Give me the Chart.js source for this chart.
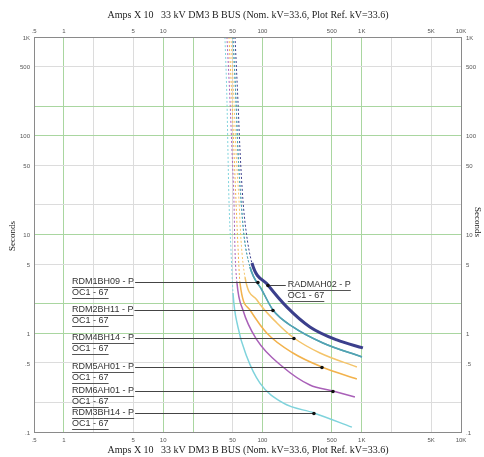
<!DOCTYPE html>
<html><head><meta charset="utf-8">
<script src="https://cdn.jsdelivr.net/npm/chart.js@4.4.1/dist/chart.umd.min.js"></script>
<style>html,body{margin:0;padding:0;background:#fff}#wrap{width:484px;height:457px;position:relative}</style>
</head><body><div id="wrap"><canvas id="c" width="484" height="457"></canvas></div>
<script>
// ---- data ----
const axisTitle = "Amps X 10   33 kV DM3 B BUS (Nom. kV=33.6, Plot Ref. kV=33.6)";
const yAxisTitle = "Seconds";
const xTickValues = [0.5, 1, 5, 10, 50, 100, 500, 1000, 5000, 10000];
const xTickLabels = [".5", "1", "5", "10", "50", "100", "500", "1K", "5K", "10K"];
const yTickValues = [1000, 500, 100, 50, 10, 5, 1, 0.5, 0.1];
const yTickLabels = ["1K", "500", "100", "50", "10", "5", "1", ".5", ".1"];
const xGridValues = [1, 2, 5, 10, 20, 50, 100, 200, 500, 1000, 2000, 5000];
const yGridValues = [0.2, 0.5, 1, 2, 5, 10, 20, 50, 100, 200, 500];

// curves: amps (x10) and seconds
const ampsRADMAH02 = [52.9, 56.6, 59.4, 63.6, 68.2, 78.4, 113.6, 176.6, 300.6, 562, 1028];
const secsRADMAH02 = [1000, 230, 71.7, 22.4, 11.1, 5.15, 3.08, 1.84, 1.16, 0.855, 0.71];
const ampsRDM1BH09 = [50.5, 54.1, 56.6, 60.8, 65.1, 74.9, 98.9, 127.6, 202.8, 406.7, 1005];
const secsRDM1BH09 = [1000, 230, 71.7, 22.4, 9.89, 4.69, 2.74, 1.72, 1.16, 0.797, 0.575];
const ampsRDM2BH11 = [50.5, 54.1, 56.6, 60.8, 65.1, 74.9, 98.9, 127.6, 202.8, 406.7, 1005];
const secsRDM2BH11 = [1000, 230, 71.7, 22.4, 9.89, 4.69, 2.74, 1.72, 1.16, 0.797, 0.575];
const ampsRDM4BH14 = [48.2, 51.6, 54.1, 58, 60.8, 66.7, 88, 140, 207.5, 380, 894];
const secsRDM4BH14 = [1000, 230, 71.7, 22.4, 8.8, 3.71, 2.17, 1.27, 0.895, 0.631, 0.455];
const ampsRDM5AH01 = [46, 49.3, 51.6, 54.1, 56.6, 59.4, 74.9, 111, 202.8, 397.6, 894];
const secsRDM5AH01 = [1000, 230, 71.7, 22.4, 7.83, 3.23, 1.72, 1.0, 0.631, 0.455, 0.344];
const ampsRDM6AH01 = [43.9, 47.1, 49.3, 51.6, 52.9, 55.4, 63.6, 88, 160.9, 300.6, 513, 854];
const secsRDM6AH01 = [1000, 230, 71.7, 22.4, 6.97, 3.23, 1.72, 0.855, 0.455, 0.299, 0.26, 0.226];
const ampsRDM3BH14 = [41.9, 43.9, 44.9, 46, 48.2, 50.5, 56.6, 69.8, 94.4, 160.9, 330, 797];
const secsRDM3BH14 = [1000, 230, 71.7, 22.4, 6.97, 2.56, 1.16, 0.575, 0.313, 0.197, 0.156, 0.112];

// index of first point of the solid part of each curve
const solidFrom = {RADMAH02: 5, RDM1BH09: 5, RDM2BH11: 5, RDM4BH14: 5, RDM5AH01: 5, RDM6AH01: 5, RDM3BH14: 5};

// device labels: name, marker point (amps, seconds)
const labelNames = ["RDM1BH09 - P", "RADMAH02 - P", "RDM2BH11 - P", "RDM4BH14 - P", "RDM5AH01 - P", "RDM6AH01 - P", "RDM3BH14 - P"];
const labelSub = "OC1 - 67";
const markerAmps = [90, 113.6, 127.6, 207.5, 397.6, 513, 330];
const markerSecs = [3.30, 3.08, 1.72, 0.895, 0.455, 0.26, 0.156];
const labelAmps = [1.21, 180, 1.21, 1.21, 1.21, 1.21, 1.21];

// ---- build ----
const zip = (a, s) => a.map((v, i) => ({x: v, y: s[i]}));
const curveDefs = [
  {key: "RDM3BH14", amps: ampsRDM3BH14, secs: secsRDM3BH14, color: "#7fd3dc", w: 1.5},
  {key: "RDM6AH01", amps: ampsRDM6AH01, secs: secsRDM6AH01, color: "#a960b8", w: 1.5},
  {key: "RDM5AH01", amps: ampsRDM5AH01, secs: secsRDM5AH01, color: "#f2b24c", w: 1.5},
  {key: "RDM4BH14", amps: ampsRDM4BH14, secs: secsRDM4BH14, color: "#f4c46a", w: 1.5},
  {key: "RDM1BH09", amps: ampsRDM1BH09, secs: secsRDM1BH09, color: "#52a3b3", w: 1.5},
  {key: "RDM2BH11", amps: ampsRDM2BH11, secs: secsRDM2BH11, color: "#52a3b3", w: 1.5},
  {key: "RADMAH02", amps: ampsRADMAH02, secs: secsRADMAH02, color: "#3b3f8c", w: 3}
];
const datasets = curveDefs.map(c => ({
  label: c.key,
  data: zip(c.amps, c.secs),
  borderColor: c.color,
  borderWidth: c.w,
  pointRadius: 0,
  fill: false,
  cubicInterpolationMode: "monotone",
  segment: {
    borderDash: ctx => ctx.p1DataIndex <= solidFrom[c.key] ? [2, 2] : [],
    borderWidth: ctx => ctx.p1DataIndex <= solidFrom[c.key] ? 1 : c.w
  }
}));

const greenX = [1, 10, 20, 100, 500, 1000];
const greenY = [1, 2, 10, 100, 200];

const deco = {
  id: "deco",
  afterDraw(chart) {
    const ctx = chart.ctx, a = chart.chartArea;
    const xs = chart.scales.x, ys = chart.scales.y;
    ctx.save();
    ctx.strokeStyle = "#8a8a8a"; ctx.lineWidth = 1;
    ctx.strokeRect(Math.round(a.left) + 0.5, Math.round(a.top) + 0.5, Math.round(a.right - a.left), Math.round(a.bottom - a.top));
    ctx.fillStyle = "#555"; ctx.font = "6px 'Liberation Sans', Arial, sans-serif";
    ctx.textAlign = "center"; ctx.textBaseline = "middle";
    xTickValues.forEach((v, i) => {
      const px = xs.getPixelForValue(v);
      ctx.fillText(xTickLabels[i], px, a.top - 6);
      ctx.fillText(xTickLabels[i], px, a.bottom + 8);
    });
    yTickValues.forEach((v, i) => {
      const py = ys.getPixelForValue(v);
      ctx.textAlign = "right"; ctx.fillText(yTickLabels[i], a.left - 4, py + 1);
      ctx.textAlign = "left"; ctx.fillText(yTickLabels[i], a.right + 5, py + 1);
    });
    ctx.fillStyle = "#222"; ctx.font = "10px 'Liberation Serif', 'Times New Roman', serif";
    ctx.textAlign = "center";
    ctx.fillText(axisTitle, 248, 15);
    ctx.fillText(axisTitle, 248, 450);
    ctx.font = "9px 'Liberation Serif', serif";
    ctx.save(); ctx.translate(13, 236); ctx.rotate(-Math.PI / 2); ctx.fillText(yAxisTitle, 0, 0); ctx.restore();
    ctx.save(); ctx.translate(477, 222); ctx.rotate(Math.PI / 2); ctx.fillText(yAxisTitle, 0, 0); ctx.restore();
    ctx.font = "9px 'Liberation Sans', Arial, sans-serif";
    ctx.textBaseline = "middle";
    labelNames.forEach((name, i) => {
      const mx = xs.getPixelForValue(markerAmps[i]);
      const my = Math.round(ys.getPixelForValue(markerSecs[i]));
      const lx = xs.getPixelForValue(labelAmps[i]);
      const w1 = ctx.measureText(name).width, w2 = ctx.measureText(labelSub).width;
      ctx.fillStyle = "#333"; ctx.textAlign = "left";
      ctx.fillText(name, lx, my);
      ctx.fillText(labelSub, lx, my + 11);
      ctx.strokeStyle = "#555"; ctx.lineWidth = 1;
      ctx.beginPath();
      ctx.moveTo(lx, my + 5.5); ctx.lineTo(lx + w1, my + 5.5);
      ctx.moveTo(lx, my + 16.5); ctx.lineTo(lx + w2, my + 16.5);
      ctx.stroke();
      ctx.strokeStyle = "#444";
      ctx.beginPath();
      if (lx < mx) { ctx.moveTo(lx + w1 + 1, my + 0.5); ctx.lineTo(mx, my + 0.5); }
      else { ctx.moveTo(lx - 2, my + 0.5); ctx.lineTo(mx, my + 0.5); }
      ctx.stroke();
      ctx.fillStyle = "#111";
      ctx.beginPath(); ctx.arc(mx, my + 0.5, 1.8, 0, Math.PI * 2); ctx.fill();
    });
    ctx.restore();
  }
};

new Chart(document.getElementById("c"), {
  type: "line",
  data: {datasets},
  options: {
    responsive: false, animation: false, devicePixelRatio: 1,
    layout: {padding: {left: 34, right: 23, top: 37, bottom: 25}},
    plugins: {legend: {display: false}, tooltip: {enabled: false}},
    scales: {
      x: {
        type: "logarithmic", min: 0.5, max: 10000,
        afterBuildTicks: s => { s.ticks = xGridValues.map(v => ({value: v})); },
        ticks: {display: false},
        border: {display: false},
        grid: {drawTicks: false, tickLength: 0, lineWidth: 1,
          color: c => greenX.includes(c.tick && c.tick.value) ? "#a9d6a0" : "#dcdcdc"}
      },
      y: {
        type: "logarithmic", min: 0.1, max: 1000,
        afterBuildTicks: s => { s.ticks = yGridValues.map(v => ({value: v})); },
        ticks: {display: false},
        border: {display: false},
        grid: {drawTicks: false, tickLength: 0, lineWidth: 1,
          color: c => greenY.includes(c.tick && c.tick.value) ? "#a9d6a0" : "#dcdcdc"}
      }
    }
  },
  plugins: [deco]
});
</script>
</body></html>
